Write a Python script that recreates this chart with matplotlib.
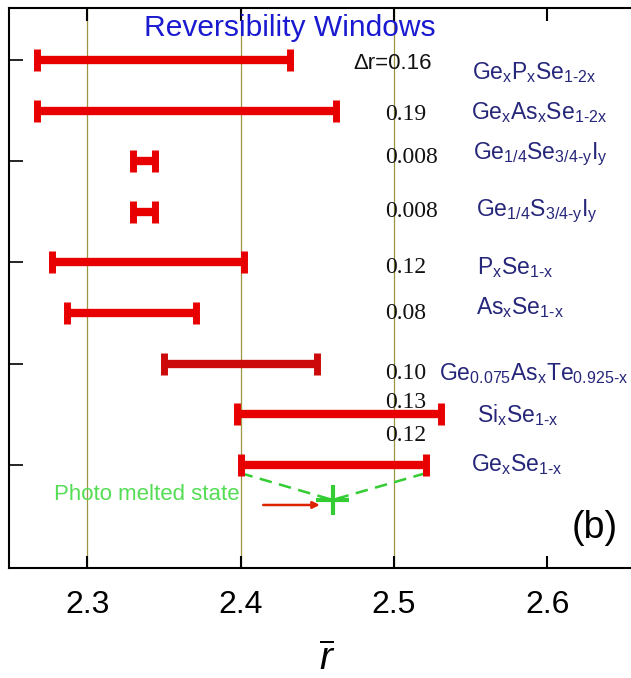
import numpy as np
import matplotlib
matplotlib.use('Agg')
import matplotlib.pyplot as plt

plt.rcParams['font.family'] = ['Liberation Sans', 'DejaVu Sans']
plt.rcParams['mathtext.fontset'] = 'custom'
plt.rcParams['mathtext.rm'] = 'Liberation Sans'
plt.rcParams['mathtext.it'] = 'Liberation Sans:italic'
plt.rcParams['mathtext.bf'] = 'Liberation Sans:bold'

H = '\u2010'  # 连字符, 避免 mathtext 把 "-" 当作减号

# 数据: 每种玻璃体系的可逆窗口 (r 的下限 / 上限)
labels = ['Ge$_\\mathrm{x}$P$_\\mathrm{x}$Se$_\\mathrm{1' + H + '2x}$',
          'Ge$_\\mathrm{x}$As$_\\mathrm{x}$Se$_\\mathrm{1' + H + '2x}$',
          'Ge$_\\mathrm{1/4}$Se$_\\mathrm{3/4' + H + 'y}$I$_\\mathrm{y}$',
          'Ge$_\\mathrm{1/4}$S$_\\mathrm{3/4' + H + 'y}$I$_\\mathrm{y}$',
          'P$_\\mathrm{x}$Se$_\\mathrm{1' + H + 'x}$',
          'As$_\\mathrm{x}$Se$_\\mathrm{1' + H + 'x}$',
          'Ge$_\\mathrm{0.075}$As$_\\mathrm{x}$Te$_\\mathrm{0.925' + H + 'x}$',
          'Si$_\\mathrm{x}$Se$_\\mathrm{1' + H + 'x}$',
          'Ge$_\\mathrm{x}$Se$_\\mathrm{1' + H + 'x}$']
r_low = [2.267, 2.267, 2.330, 2.330, 2.277, 2.287, 2.350, 2.398, 2.400]
r_high = [2.432, 2.462, 2.344, 2.344, 2.402, 2.371, 2.450, 2.531, 2.521]
widths = ['\u0394r=0.16', '0.19', '0.008', '0.008', '0.12', '0.08', '0.10', '0.13', '0.12']
rows = [9, 8, 7, 6, 5, 4, 3, 2, 1]

# 光熔化态 (photo melted state)
melt_r = 2.46
melt_y = 0.31

xticks = [2.3, 2.4, 2.5, 2.6]
grid_x = [2.3, 2.4, 2.5]

# 文本相对各行的竖直偏移 (版式用)
num_dy = [-0.06, -0.08, 0.08, 0.0, -0.1, 0.0, -0.2, 0.24, 0.59]
lab_dy = [-0.24, -0.04, 0.14, 0.02, -0.1, 0.1, -0.2, -0.02, 0.0]
lab_x = [2.5512, 2.5505, 2.5519, 2.5534, 2.5542, 2.5535, 2.5295, 2.5542, 2.5502]

fig = plt.figure(figsize=(6.31, 6.78), dpi=100)
ax = fig.add_axes([9/631, 110/678, 691.5/631, 560/678])
ax.set_xlim(2.249, 2.7)
ax.set_ylim(-1.035, 10.027)

for gx in grid_x:
    ax.axvline(gx, color='#9c9640', lw=0.9, zorder=0)

red = '#e80000'
for i in range(len(rows)):
    c = '#cc0a0a' if i == 6 else red
    mid = (r_low[i] + r_high[i]) / 2
    half = (r_high[i] - r_low[i]) / 2
    ax.errorbar(mid, rows[i], xerr=half, fmt='none', ecolor=c,
                elinewidth=6, capsize=8, capthick=5, zorder=3)
    ax.text(2.4945 if i else 2.4735, rows[i] + num_dy[i], widths[i],
            fontsize=17 if i else 16,
            family=['Liberation Serif'] if i else ['Liberation Sans'],
            color='#111111', ha='left', va='center', zorder=4)
    ax.text(lab_x[i], rows[i] + lab_dy[i], labels[i], fontsize=16.5,
            color='#26267a', ha='left', va='center', zorder=4)

ax.text(2.4324, 9.474, 'Reversibility Windows', fontsize=21.6, color='#1a1ad0',
        ha='center', va='baseline', zorder=4)

# 光熔化态与 GeSe 窗口两端的连线
g = '#33cc33'
ax.plot([r_low[8], melt_r, r_high[8]], [0.84, melt_y, 0.84], ls=(0, (5, 3)),
        color=g, lw=1.8, zorder=2)
ax.errorbar(melt_r, melt_y, xerr=0.0105, yerr=0.3, fmt='none', ecolor=g,
            elinewidth=3, capsize=0, zorder=5)
ax.text(2.2785, 0.41, 'Photo melted state', fontsize=16, color='#55dd55',
        ha='left', va='center', zorder=4)
ax.annotate('', xy=(2.4535, 0.21), xytext=(2.413, 0.21),
            arrowprops={'arrowstyle': '-|>', 'color': '#dd2200', 'lw': 1.8,
                        'mutation_scale': 10}, zorder=4)

ax.text(2.646, -0.24, '(b)', fontsize=27, ha='right', va='center')

ax.set_xticks(xticks)
ax.set_xticklabels([str(t) for t in xticks])
ax.set_yticks([1, 3, 5, 7, 9])
ax.set_yticklabels([])
ax.tick_params(axis='x', direction='in', top=True, bottom=True, length=9,
               width=1.5, labelsize=23, pad=16)
ax.tick_params(axis='y', direction='in', left=True, right=False, length=10,
               width=1.2)
for s in ax.spines.values():
    s.set_linewidth(1.5)

fig.text(327/631, 1 - 670/678, r'$\overline{r}$', fontsize=28, ha='center',
         va='baseline')

fig.savefig('out.png', dpi=100)
